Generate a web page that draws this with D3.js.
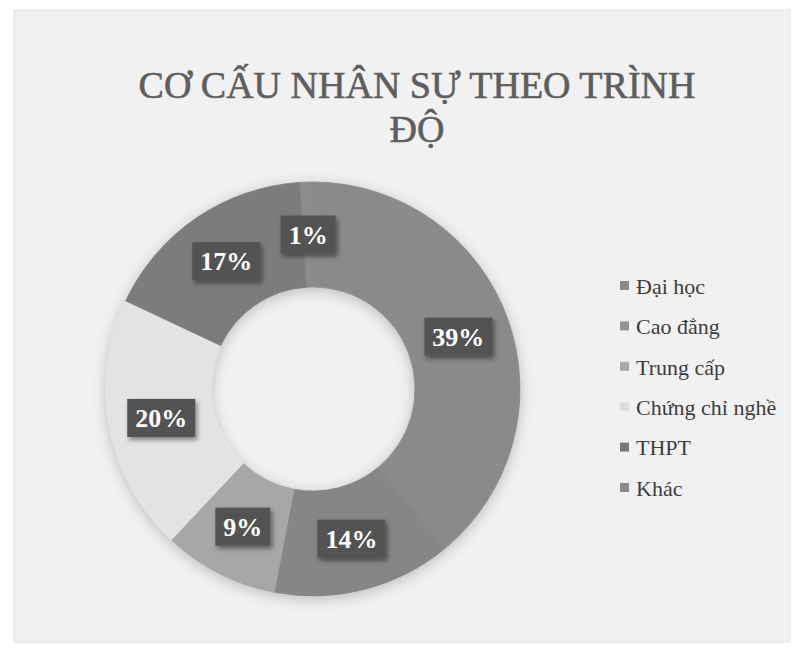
<!DOCTYPE html>
<html><head><meta charset="utf-8">
<script src="https://cdn.jsdelivr.net/npm/d3@7"></script>
<style>body{margin:0;background:#fff}</style>
</head><body><svg id="c" width="796" height="656"></svg>
<script>
const categories = ["Đại học","Cao đẳng","Trung cấp","Chứng chỉ nghề","THPT","Khác"];
const values = [39,14,9,20,17,1];
const sliceColors = ["#8a8a8a","#868686","#a7a7a7","#e3e3e3","#7b7b7b","#8c8c8c"];
const legendColors = ["#8a8a8a","#939393","#a9a9a9","#dedede","#777777","#8a8a8a"];
const titleLines = ["CƠ CẤU NHÂN SỰ THEO TRÌNH","ĐỘ"];

const svg = d3.select("#c");
const defs = svg.append("defs");
const f1 = defs.append("filter").attr("id","ds").attr("x","-20%").attr("y","-20%").attr("width","140%").attr("height","140%");
f1.append("feDropShadow").attr("dx",0).attr("dy",3).attr("stdDeviation",7).attr("flood-color","#000").attr("flood-opacity",0.22);
const f2 = defs.append("filter").attr("id","ls").attr("x","-30%").attr("y","-30%").attr("width","160%").attr("height","160%");
f2.append("feDropShadow").attr("dx",2).attr("dy",3).attr("stdDeviation",2.5).attr("flood-color","#000").attr("flood-opacity",0.45);

// chart area
svg.append("rect").attr("x",14).attr("y",10).attr("width",776).attr("height",632)
  .attr("fill","#f1f1f1").attr("stroke","#e2e2e2").attr("stroke-width",1);

// title
svg.append("g").selectAll("text").data(titleLines).join("text")
  .attr("x",417).attr("y",(d,i)=>98+i*44)
  .attr("text-anchor","middle")
  .attr("font-family","'Liberation Serif','Times New Roman',serif")
  .attr("font-size",38).attr("fill","#5e5e5e")
  .attr("stroke","#5e5e5e").attr("stroke-width",0.6)
  .text(d=>d);

const cx = 313, cy = 389, rOut = 207, rIn = 102;
const pie = d3.pie().sort(null).value(d=>d.v);
const data = categories.map((c,i)=>({c, v: values[i], color: sliceColors[i]}));
const arcs = pie(data);
const arc = d3.arc().innerRadius(rIn).outerRadius(rOut);

const g = svg.append("g").attr("transform",`translate(${cx},${cy})`);
g.append("g").attr("filter","url(#ds)").selectAll("path").data(arcs).join("path")
  .attr("d",arc).attr("fill",d=>d.data.color)
  .attr("stroke",d=>d.data.color).attr("stroke-width",0.8);

// labels
const lg = g.append("g");
arcs.forEach(a=>{
  const [x,y] = arc.centroid(a);
  const grp = lg.append("g").attr("transform",`translate(${x},${y})`);
  const r = grp.append("rect").attr("fill","#535353").attr("filter","url(#ls)");
  const t = grp.append("text").attr("text-anchor","middle").attr("dy","0.35em")
    .attr("font-family","'Liberation Serif','Times New Roman',serif")
    .attr("font-weight","bold").attr("font-size",26).attr("fill","#fff")
    .text(Math.round(a.data.v/d3.sum(values)*100)+"%");
  const bb = t.node().getBBox();
  const w = bb.width + 16, h = 38;
  r.attr("x",-w/2).attr("y",-h/2).attr("width",w).attr("height",h);
});

// legend
const ly = d3.scalePoint().domain(categories).range([286,488]);
const leg = svg.append("g").selectAll("g").data(categories).join("g")
  .attr("transform",d=>`translate(620,${ly(d)})`);
leg.append("rect").attr("x",0).attr("y",-5).attr("width",9).attr("height",9)
  .attr("fill",(d,i)=>legendColors[i]);
leg.append("text").attr("x",16).attr("dy","0.35em")
  .attr("font-family","'Liberation Serif','Times New Roman',serif")
  .attr("font-size",22).attr("fill","#3d3d3d").text(d=>d);
</script></body></html>
